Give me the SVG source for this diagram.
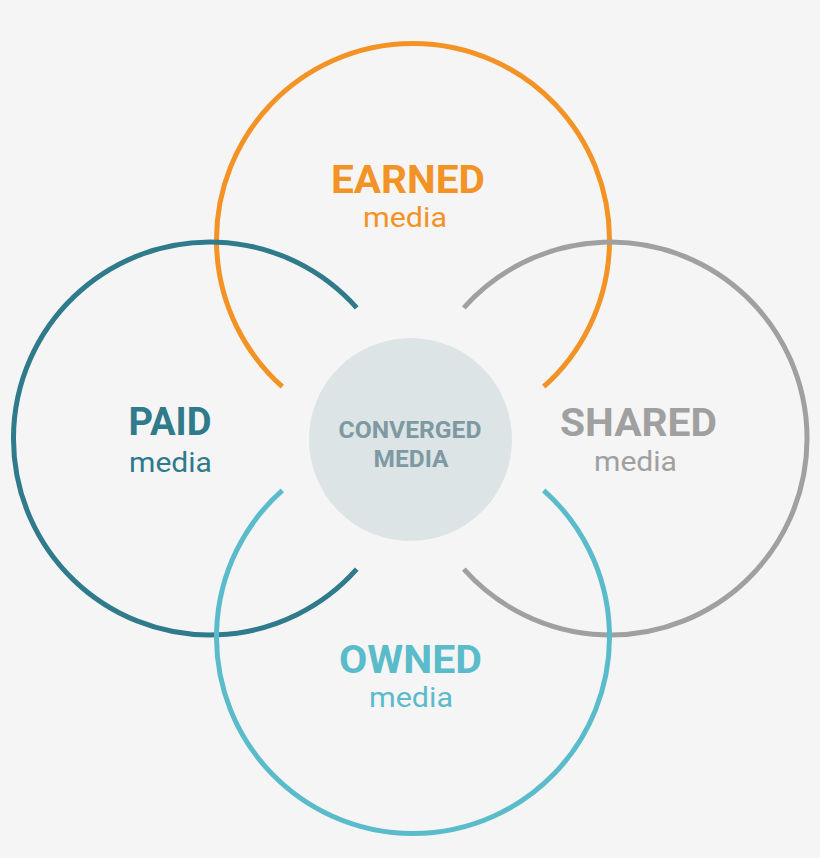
<svg xmlns="http://www.w3.org/2000/svg" width="820" height="858" viewBox="0 0 820 858">
<style>
.ring{fill:none;stroke-width:5;stroke-linecap:butt}
.big{font-family:Roboto,"Liberation Sans",sans-serif;font-weight:bold;font-size:38px;text-anchor:middle}
.small{font-family:Roboto,"Liberation Sans",sans-serif;font-weight:normal;font-size:27px;text-anchor:middle}
.conv{font-family:Roboto,"Liberation Sans",sans-serif;font-weight:bold;font-size:24px;text-anchor:middle;fill:#7E99A2}
</style>
<rect x="0" y="0" width="820" height="858" fill="#F5F5F5"/>
<g id="connectors"></g>
<g id="earned">
<path class="ring" stroke="#F39325" d="M 282.3 386.7 A 196.5 196.5 0 1 1 543.7 386.7"/>
<text class="big" fill="#F39325" x="408" y="193" textLength="154" lengthAdjust="spacingAndGlyphs">EARNED</text>
<text class="small" fill="#F39325" x="405" y="227" textLength="84" lengthAdjust="spacingAndGlyphs">media</text>
</g>
<g id="paid">
<path class="ring" stroke="#2F7A8B" d="M 356.7 307.8 A 196.5 196.5 0 1 0 356.7 569.2"/>
<text class="big" fill="#2F7A8B" x="170" y="435" textLength="83" lengthAdjust="spacingAndGlyphs">PAID</text>
<text class="small" fill="#2F7A8B" x="170.5" y="471.5" textLength="83" lengthAdjust="spacingAndGlyphs">media</text>
</g>
<g id="shared">
<path class="ring" stroke="#A0A0A0" d="M 463.8 307.8 A 196.5 196.5 0 1 1 463.8 569.2"/>
<text class="big" fill="#A0A0A0" x="638.5" y="436" textLength="157" lengthAdjust="spacingAndGlyphs">SHARED</text>
<text class="small" fill="#A0A0A0" x="635.5" y="471" textLength="83" lengthAdjust="spacingAndGlyphs">media</text>
</g>
<g id="owned">
<path class="ring" stroke="#5ABCCA" d="M 282.3 490.3 A 196.5 196.5 0 1 0 543.7 490.3"/>
<text class="big" fill="#5ABCCA" x="410.5" y="673" textLength="143" lengthAdjust="spacingAndGlyphs">OWNED</text>
<text class="small" fill="#5ABCCA" x="411" y="706.5" textLength="84" lengthAdjust="spacingAndGlyphs">media</text>
</g>
<g id="converged">
<circle cx="410.5" cy="439.5" r="101.5" fill="#DCE4E6"/>
<text class="conv" x="410" y="438.3" textLength="143" lengthAdjust="spacingAndGlyphs">CONVERGED</text>
<text class="conv" x="411" y="466.7" textLength="75" lengthAdjust="spacingAndGlyphs">MEDIA</text>
</g>
</svg>
